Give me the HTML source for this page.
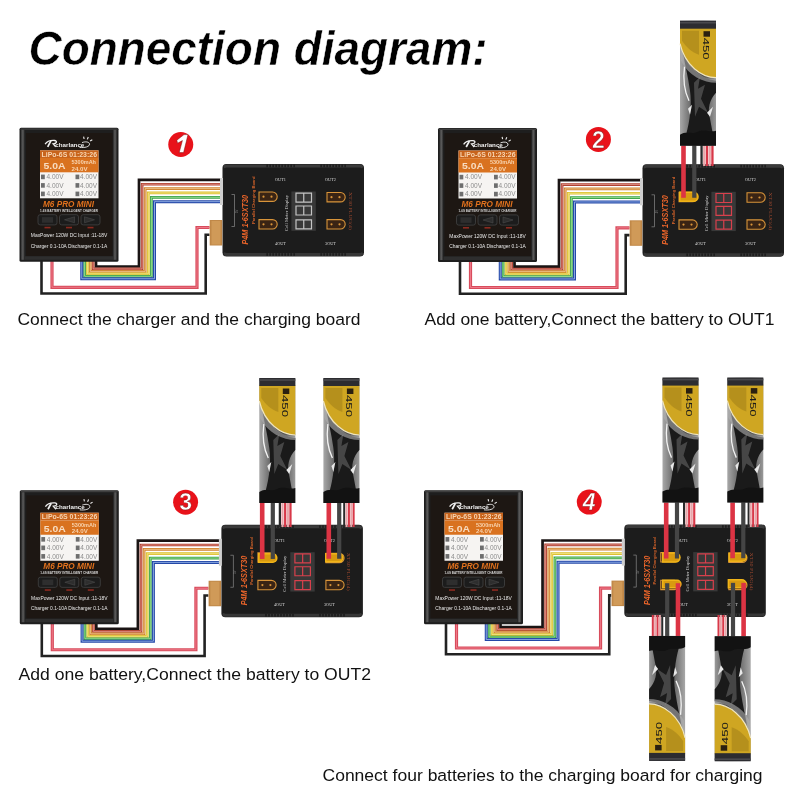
<!DOCTYPE html>
<html><head><meta charset="utf-8"><style>
html,body{margin:0;padding:0;background:#fff;width:800px;height:800px;overflow:hidden}
svg{display:block;will-change:transform}
</style></head><body>
<svg width="800" height="800" viewBox="0 0 800 800">
<defs><linearGradient id="bgrad" x1="0" x2="1" y1="0" y2="0"><stop offset="0" stop-color="#a8a8a8"/><stop offset="0.3" stop-color="#6a6a6a"/><stop offset="0.65" stop-color="#4a4a4a"/><stop offset="1" stop-color="#9a9a9a"/></linearGradient><linearGradient id="lgrad" x1="0" x2="1" y1="0" y2="0"><stop offset="0" stop-color="#a0a0a0"/><stop offset="1" stop-color="#5a5a5a"/></linearGradient><linearGradient id="rgrad" x1="0" x2="1" y1="0" y2="0"><stop offset="0" stop-color="#3a3a3a"/><stop offset="1" stop-color="#8a8a8a"/></linearGradient><linearGradient id="cstrip" x1="0" x2="1" y1="0" y2="0"><stop offset="0" stop-color="#3a3a3a"/><stop offset="0.5" stop-color="#5a5a5a"/><stop offset="1" stop-color="#2a2a2a"/></linearGradient></defs>
<rect width="800" height="800" fill="#fff"/>
<text x="28.5" y="65" font-family='"Liberation Sans", sans-serif' font-weight="bold" font-style="italic" font-size="48.5" fill="#000" stroke="#fff" stroke-width="0.5" textLength="459" lengthAdjust="spacingAndGlyphs">Connection diagram:</text><path d="M96.00 260.8 V266.50 H139.00 V179.90 H222.00" fill="none" stroke="#1a1414" stroke-width="2.7"/><path d="M93.15 260.8 V268.95 H142.10 V184.25 H222.00" fill="none" stroke="#b04030" stroke-width="2.7"/><path d="M93.15 260.8 V268.95 H142.10 V184.25 H222.00" fill="none" stroke="#eaa098" stroke-width="0.75"/><path d="M90.30 260.8 V271.40 H145.20 V188.60 H222.00" fill="none" stroke="#d0822e" stroke-width="2.7"/><path d="M90.30 260.8 V271.40 H145.20 V188.60 H222.00" fill="none" stroke="#f4d0a0" stroke-width="0.75"/><path d="M87.45 260.8 V273.85 H148.30 V192.95 H222.00" fill="none" stroke="#dcc030" stroke-width="2.7"/><path d="M87.45 260.8 V273.85 H148.30 V192.95 H222.00" fill="none" stroke="#f6ec98" stroke-width="0.75"/><path d="M84.60 260.8 V276.30 H151.40 V197.30 H222.00" fill="none" stroke="#3aa24a" stroke-width="2.7"/><path d="M84.60 260.8 V276.30 H151.40 V197.30 H222.00" fill="none" stroke="#b0eca0" stroke-width="0.75"/><path d="M81.75 260.8 V278.75 H154.50 V201.65 H222.00" fill="none" stroke="#2448a8" stroke-width="3.0"/><path d="M81.75 260.8 V278.75 H154.50 V201.65 H222.00" fill="none" stroke="#a8c4f0" stroke-width="0.75"/><path d="M41.5 260.8 V293.5 H205.7 V234.8 H209.5" fill="none" stroke="#222" stroke-width="2.6"/><path d="M52.0 260.8 V287.3 H197.0 V227.5 H209.5" fill="none" stroke="#d84c5c" stroke-width="3.2"/><path d="M52.0 260.8 V287.3 H197.0 V227.5 H209.5" fill="none" stroke="#ee7888" stroke-width="1.0"/><g transform="translate(19.5,127.8)"><rect x="0" y="0" width="99" height="134" rx="1.5" fill="#1e1e1e"/><rect x="1" y="0.6" width="97" height="1.4" fill="#3e3e3e"/><rect x="1.6" y="2" width="3.6" height="130" fill="url(#cstrip)"/><rect x="93.8" y="2" width="3.6" height="130" fill="url(#cstrip)"/><rect x="6.5" y="5.2" width="86.5" height="123" fill="#1d1713"/><rect x="5.5" y="128.5" width="88" height="3.5" fill="#2e2e2e"/><path d="M25.6 16.4 C27.5 13.6 31 12.4 35 12.7 C38 13 37.5 15.8 33.6 16 L36.2 19" fill="none" stroke="#f0f0f0" stroke-width="1.3"/><path d="M31.4 13 L28.2 19" fill="none" stroke="#f0f0f0" stroke-width="1.7"/><text x="35.8" y="19" font-family='"Liberation Sans", sans-serif' font-weight="bold" font-size="6" fill="#eeeeee" textLength="29" lengthAdjust="spacingAndGlyphs">charlance</text><path d="M60 19.6 C65 20.2 70.5 19 70 16 C69.5 14 66 13.5 62.5 14.8" fill="none" stroke="#eeeeee" stroke-width="0.9"/><path d="M64.6 11.2 l-0.5 -2.4 M67.8 11.6 l1 -2.4 M70.6 13.2 l2.2 -1.3" stroke="#eeeeee" stroke-width="1.1"/><rect x="20.5" y="22.5" width="58.5" height="48" fill="#f6f4f2"/><rect x="20.5" y="22.5" width="58.5" height="7.7" fill="#c8641c"/><rect x="20.5" y="30.2" width="58.5" height="14.3" fill="#d9721f"/><text x="22" y="29.2" font-family='"Liberation Sans", sans-serif' font-weight="bold" font-size="6.8" fill="#f8d4b0" textLength="55.5" lengthAdjust="spacingAndGlyphs">LiPo-6S 01:23:26</text><text x="24" y="41.3" font-family='"Liberation Sans", sans-serif' font-weight="bold" font-size="9.5" fill="#f8dcc0" textLength="22" lengthAdjust="spacingAndGlyphs">5.0A</text><text x="52" y="36.3" font-family='"Liberation Sans", sans-serif' font-weight="bold" font-size="5.4" fill="#f8d4b0" textLength="24.5" lengthAdjust="spacingAndGlyphs">5300mAh</text><text x="52" y="43.2" font-family='"Liberation Sans", sans-serif' font-weight="bold" font-size="6.2" fill="#f8d4b0" textLength="16" lengthAdjust="spacingAndGlyphs">24.0V</text><rect x="21.5" y="46.8" width="3.8" height="4.6" fill="#6e6e6e"/><text x="27" y="51.4" font-family='"Liberation Sans", sans-serif' font-size="7" fill="#8c8c8c" textLength="17" lengthAdjust="spacingAndGlyphs">4.00V</text><rect x="56" y="46.8" width="3.8" height="4.6" fill="#6e6e6e"/><text x="60.5" y="51.4" font-family='"Liberation Sans", sans-serif' font-size="7" fill="#8c8c8c" textLength="17" lengthAdjust="spacingAndGlyphs">4.00V</text><rect x="21.5" y="55.3" width="3.8" height="4.6" fill="#6e6e6e"/><text x="27" y="59.9" font-family='"Liberation Sans", sans-serif' font-size="7" fill="#8c8c8c" textLength="17" lengthAdjust="spacingAndGlyphs">4.00V</text><rect x="56" y="55.3" width="3.8" height="4.6" fill="#6e6e6e"/><text x="60.5" y="59.9" font-family='"Liberation Sans", sans-serif' font-size="7" fill="#8c8c8c" textLength="17" lengthAdjust="spacingAndGlyphs">4.00V</text><rect x="21.5" y="63.800000000000004" width="3.8" height="4.6" fill="#6e6e6e"/><text x="27" y="68.4" font-family='"Liberation Sans", sans-serif' font-size="7" fill="#8c8c8c" textLength="17" lengthAdjust="spacingAndGlyphs">4.00V</text><rect x="56" y="63.800000000000004" width="3.8" height="4.6" fill="#6e6e6e"/><text x="60.5" y="68.4" font-family='"Liberation Sans", sans-serif' font-size="7" fill="#8c8c8c" textLength="17" lengthAdjust="spacingAndGlyphs">4.00V</text><text x="23.5" y="79.2" font-family='"Liberation Sans", sans-serif' font-style="italic" font-weight="bold" font-size="8.8" fill="#e0711d" textLength="51" lengthAdjust="spacingAndGlyphs">M6 PRO MINI</text><text x="20.5" y="84" font-family='"Liberation Sans", sans-serif' font-weight="bold" font-size="2.6" fill="#d8d8d8" textLength="58" lengthAdjust="spacingAndGlyphs">1-6S BATTERY INTELLIGENT CHARGER</text><rect x="18.5" y="86.9" width="19" height="10.2" rx="2.2" fill="#1c1c1c" stroke="#3e3e3e" stroke-width="0.9"/><rect x="40" y="86.9" width="19" height="10.2" rx="2.2" fill="#1c1c1c" stroke="#3e3e3e" stroke-width="0.9"/><rect x="61.5" y="86.9" width="19" height="10.2" rx="2.2" fill="#1c1c1c" stroke="#3e3e3e" stroke-width="0.9"/><path d="M22.5 89.3h11v5.6h-11z" fill="#2e2e2e"/><path d="M45 92 l10 -3 v6z" fill="#2e2e2e" stroke="#505050" stroke-width="0.5"/><path d="M75 92 l-10 -3 v6z" fill="#2e2e2e" stroke="#505050" stroke-width="0.5"/><rect x="25" y="99" width="6" height="1.6" fill="#8a2a20"/><rect x="46.5" y="99" width="6" height="1.6" fill="#8a2a20"/><rect x="68" y="99" width="6" height="1.6" fill="#8a2a20"/><text x="11.3" y="109.6" font-family='"Liberation Sans", sans-serif' font-size="5.4" fill="#e8e8e8" textLength="76.5" lengthAdjust="spacingAndGlyphs">MaxPower 120W  DC Input :11-18V</text><text x="11.3" y="119.8" font-family='"Liberation Sans", sans-serif' font-size="5.4" fill="#e8e8e8" textLength="76.5" lengthAdjust="spacingAndGlyphs">Charger 0.1-10A  Discharger 0.1-1A</text></g><g transform="translate(222.5,164)"><rect x="0" y="0" width="141.5" height="92.5" rx="4" fill="#1e1e1e"/><rect x="1" y="0.5" width="139.5" height="4" rx="2" fill="#3a3a3a"/><rect x="1" y="88.0" width="139.5" height="4" rx="2" fill="#363636"/><rect x="2" y="3.5" width="137.5" height="85.5" rx="2" fill="#1c1c1c"/><rect x="-2.5" y="14" width="3" height="27" fill="#cfcfcf"/><path d="M9 30.5 h3 v32 h-3" fill="none" stroke="#8a8a8a" stroke-width="0.7"/><text transform="translate(15,49) rotate(-90)" font-family='"Liberation Sans", sans-serif' font-size="2.6" fill="#8a8a8a">5V</text><text transform="translate(25.8,80.5) rotate(-90)" font-family='"Liberation Sans", sans-serif' font-weight="bold" font-style="italic" font-size="8.2" fill="#e8642a" textLength="49.5" lengthAdjust="spacingAndGlyphs">P4M 1-6SXT30</text><text transform="translate(32,60) rotate(-90)" font-family='"Liberation Sans", sans-serif' font-weight="bold" font-size="4" fill="#d8642a" textLength="47.5" lengthAdjust="spacingAndGlyphs">Parallel Charging Board</text><rect x="44" y="0.6" width="1.2" height="2.6" fill="#151515"/><rect x="44" y="89.2" width="1.2" height="2.6" fill="#151515"/><rect x="47" y="0.6" width="1.2" height="2.6" fill="#151515"/><rect x="47" y="89.2" width="1.2" height="2.6" fill="#151515"/><rect x="50" y="0.6" width="1.2" height="2.6" fill="#151515"/><rect x="50" y="89.2" width="1.2" height="2.6" fill="#151515"/><rect x="53" y="0.6" width="1.2" height="2.6" fill="#151515"/><rect x="53" y="89.2" width="1.2" height="2.6" fill="#151515"/><rect x="56" y="0.6" width="1.2" height="2.6" fill="#151515"/><rect x="56" y="89.2" width="1.2" height="2.6" fill="#151515"/><rect x="59" y="0.6" width="1.2" height="2.6" fill="#151515"/><rect x="59" y="89.2" width="1.2" height="2.6" fill="#151515"/><rect x="62" y="0.6" width="1.2" height="2.6" fill="#151515"/><rect x="62" y="89.2" width="1.2" height="2.6" fill="#151515"/><rect x="65" y="0.6" width="1.2" height="2.6" fill="#151515"/><rect x="65" y="89.2" width="1.2" height="2.6" fill="#151515"/><rect x="68" y="0.6" width="1.2" height="2.6" fill="#151515"/><rect x="68" y="89.2" width="1.2" height="2.6" fill="#151515"/><rect x="71" y="0.6" width="1.2" height="2.6" fill="#151515"/><rect x="71" y="89.2" width="1.2" height="2.6" fill="#151515"/><rect x="98" y="0.6" width="1.2" height="2.6" fill="#151515"/><rect x="98" y="89.2" width="1.2" height="2.6" fill="#151515"/><rect x="101" y="0.6" width="1.2" height="2.6" fill="#151515"/><rect x="101" y="89.2" width="1.2" height="2.6" fill="#151515"/><rect x="104" y="0.6" width="1.2" height="2.6" fill="#151515"/><rect x="104" y="89.2" width="1.2" height="2.6" fill="#151515"/><rect x="107" y="0.6" width="1.2" height="2.6" fill="#151515"/><rect x="107" y="89.2" width="1.2" height="2.6" fill="#151515"/><rect x="110" y="0.6" width="1.2" height="2.6" fill="#151515"/><rect x="110" y="89.2" width="1.2" height="2.6" fill="#151515"/><rect x="113" y="0.6" width="1.2" height="2.6" fill="#151515"/><rect x="113" y="89.2" width="1.2" height="2.6" fill="#151515"/><rect x="116" y="0.6" width="1.2" height="2.6" fill="#151515"/><rect x="116" y="89.2" width="1.2" height="2.6" fill="#151515"/><rect x="119" y="0.6" width="1.2" height="2.6" fill="#151515"/><rect x="119" y="89.2" width="1.2" height="2.6" fill="#151515"/><rect x="122" y="0.6" width="1.2" height="2.6" fill="#151515"/><rect x="122" y="89.2" width="1.2" height="2.6" fill="#151515"/><text x="52.5" y="17" font-family="Liberation Serif" font-size="4.5" fill="#d8d8d8" textLength="11" lengthAdjust="spacingAndGlyphs">OUT1</text><text x="102.5" y="17" font-family="Liberation Serif" font-size="4.5" fill="#d8d8d8" textLength="11" lengthAdjust="spacingAndGlyphs">OUT2</text><text x="52.5" y="81" font-family="Liberation Serif" font-size="4.5" fill="#d8d8d8" textLength="11" lengthAdjust="spacingAndGlyphs">4OUT</text><text x="102.5" y="81" font-family="Liberation Serif" font-size="4.5" fill="#d8d8d8" textLength="11" lengthAdjust="spacingAndGlyphs">3OUT</text><text transform="translate(65,67) rotate(-90)" font-family="Liberation Serif" font-size="4.6" fill="#d0d0d0" textLength="36" lengthAdjust="spacingAndGlyphs">Cell Meter Display</text><text transform="translate(126,28) rotate(90)" font-family="Liberation Serif" font-size="4.6" fill="#a04a30" textLength="38" lengthAdjust="spacingAndGlyphs">XT30 PLUG(4)</text><rect x="68.9" y="27.5" width="24.4" height="39.3" fill="#383838"/><path d="M73.5 29.2 h15.5 v9 h-15.5 z M81.25 29.2 v9" fill="none" stroke="#c4c4c4" stroke-width="1.2"/><path d="M73.5 42 h15.5 v9 h-15.5 z M81.25 42 v9" fill="none" stroke="#c4c4c4" stroke-width="1.2"/><path d="M73.5 55.8 h15.5 v9 h-15.5 z M81.25 55.8 v9" fill="none" stroke="#c4c4c4" stroke-width="1.2"/><path d="M36.5 28 h13.5 a4.7 4.7 0 0 1 0 9.4 h-13.5 z" fill="#3a2414" stroke="#d8943a" stroke-width="1.1"/><circle cx="41.0" cy="32.7" r="1.1" fill="#d8943a"/><circle cx="49.0" cy="32.7" r="1.1" fill="#d8943a"/><path d="M104.5 28.5 h13.5 a4.7 4.7 0 0 1 0 9.4 h-13.5 z" fill="#3a2414" stroke="#d8943a" stroke-width="1.1"/><circle cx="109.0" cy="33.2" r="1.1" fill="#d8943a"/><circle cx="117.0" cy="33.2" r="1.1" fill="#d8943a"/><path d="M36.5 55.6 h13.5 a4.7 4.7 0 0 1 0 9.4 h-13.5 z" fill="#3a2414" stroke="#d8943a" stroke-width="1.1"/><circle cx="41.0" cy="60.300000000000004" r="1.1" fill="#d8943a"/><circle cx="49.0" cy="60.300000000000004" r="1.1" fill="#d8943a"/><path d="M104.5 55.6 h13.5 a4.7 4.7 0 0 1 0 9.4 h-13.5 z" fill="#3a2414" stroke="#d8943a" stroke-width="1.1"/><circle cx="109.0" cy="60.300000000000004" r="1.1" fill="#d8943a"/><circle cx="117.0" cy="60.300000000000004" r="1.1" fill="#d8943a"/><rect x="-12.8" y="56" width="12.5" height="25.5" fill="#c08848"/><rect x="-11" y="57" width="9" height="23.5" fill="#d09a58"/></g><circle cx="180.75" cy="144.5" r="12.5" fill="#e8121a"/><path transform="translate(0.0,0.0)" d="M184 134.6 L188 134.6 L183.6 152.6 L179.2 152.6 L182.4 140.6 L177.6 143.2 L176.8 140.2 Z" fill="#fff" stroke="#7a1010" stroke-width="0.5"/><path d="M514.50 261 V266.70 H559.00 V180.20 H642.00" fill="none" stroke="#1a1414" stroke-width="2.7"/><path d="M511.65 261 V269.15 H562.10 V184.55 H642.00" fill="none" stroke="#b04030" stroke-width="2.7"/><path d="M511.65 261 V269.15 H562.10 V184.55 H642.00" fill="none" stroke="#eaa098" stroke-width="0.75"/><path d="M508.80 261 V271.60 H565.20 V188.90 H642.00" fill="none" stroke="#d0822e" stroke-width="2.7"/><path d="M508.80 261 V271.60 H565.20 V188.90 H642.00" fill="none" stroke="#f4d0a0" stroke-width="0.75"/><path d="M505.95 261 V274.05 H568.30 V193.25 H642.00" fill="none" stroke="#dcc030" stroke-width="2.7"/><path d="M505.95 261 V274.05 H568.30 V193.25 H642.00" fill="none" stroke="#f6ec98" stroke-width="0.75"/><path d="M503.10 261 V276.50 H571.40 V197.60 H642.00" fill="none" stroke="#3aa24a" stroke-width="2.7"/><path d="M503.10 261 V276.50 H571.40 V197.60 H642.00" fill="none" stroke="#b0eca0" stroke-width="0.75"/><path d="M500.25 261 V278.95 H574.50 V201.95 H642.00" fill="none" stroke="#2448a8" stroke-width="3.0"/><path d="M500.25 261 V278.95 H574.50 V201.95 H642.00" fill="none" stroke="#a8c4f0" stroke-width="0.75"/><path d="M460 261 V293.7 H625.7 V235.10000000000002 H629.5" fill="none" stroke="#222" stroke-width="2.6"/><path d="M470.5 261 V287.5 H617.0 V227.8 H629.5" fill="none" stroke="#d84c5c" stroke-width="3.2"/><path d="M470.5 261 V287.5 H617.0 V227.8 H629.5" fill="none" stroke="#ee7888" stroke-width="1.0"/><g transform="translate(438,128)"><rect x="0" y="0" width="99" height="134" rx="1.5" fill="#1e1e1e"/><rect x="1" y="0.6" width="97" height="1.4" fill="#3e3e3e"/><rect x="1.6" y="2" width="3.6" height="130" fill="url(#cstrip)"/><rect x="93.8" y="2" width="3.6" height="130" fill="url(#cstrip)"/><rect x="6.5" y="5.2" width="86.5" height="123" fill="#1d1713"/><rect x="5.5" y="128.5" width="88" height="3.5" fill="#2e2e2e"/><path d="M25.6 16.4 C27.5 13.6 31 12.4 35 12.7 C38 13 37.5 15.8 33.6 16 L36.2 19" fill="none" stroke="#f0f0f0" stroke-width="1.3"/><path d="M31.4 13 L28.2 19" fill="none" stroke="#f0f0f0" stroke-width="1.7"/><text x="35.8" y="19" font-family='"Liberation Sans", sans-serif' font-weight="bold" font-size="6" fill="#eeeeee" textLength="29" lengthAdjust="spacingAndGlyphs">charlance</text><path d="M60 19.6 C65 20.2 70.5 19 70 16 C69.5 14 66 13.5 62.5 14.8" fill="none" stroke="#eeeeee" stroke-width="0.9"/><path d="M64.6 11.2 l-0.5 -2.4 M67.8 11.6 l1 -2.4 M70.6 13.2 l2.2 -1.3" stroke="#eeeeee" stroke-width="1.1"/><rect x="20.5" y="22.5" width="58.5" height="48" fill="#f6f4f2"/><rect x="20.5" y="22.5" width="58.5" height="7.7" fill="#c8641c"/><rect x="20.5" y="30.2" width="58.5" height="14.3" fill="#d9721f"/><text x="22" y="29.2" font-family='"Liberation Sans", sans-serif' font-weight="bold" font-size="6.8" fill="#f8d4b0" textLength="55.5" lengthAdjust="spacingAndGlyphs">LiPo-6S 01:23:26</text><text x="24" y="41.3" font-family='"Liberation Sans", sans-serif' font-weight="bold" font-size="9.5" fill="#f8dcc0" textLength="22" lengthAdjust="spacingAndGlyphs">5.0A</text><text x="52" y="36.3" font-family='"Liberation Sans", sans-serif' font-weight="bold" font-size="5.4" fill="#f8d4b0" textLength="24.5" lengthAdjust="spacingAndGlyphs">5300mAh</text><text x="52" y="43.2" font-family='"Liberation Sans", sans-serif' font-weight="bold" font-size="6.2" fill="#f8d4b0" textLength="16" lengthAdjust="spacingAndGlyphs">24.0V</text><rect x="21.5" y="46.8" width="3.8" height="4.6" fill="#6e6e6e"/><text x="27" y="51.4" font-family='"Liberation Sans", sans-serif' font-size="7" fill="#8c8c8c" textLength="17" lengthAdjust="spacingAndGlyphs">4.00V</text><rect x="56" y="46.8" width="3.8" height="4.6" fill="#6e6e6e"/><text x="60.5" y="51.4" font-family='"Liberation Sans", sans-serif' font-size="7" fill="#8c8c8c" textLength="17" lengthAdjust="spacingAndGlyphs">4.00V</text><rect x="21.5" y="55.3" width="3.8" height="4.6" fill="#6e6e6e"/><text x="27" y="59.9" font-family='"Liberation Sans", sans-serif' font-size="7" fill="#8c8c8c" textLength="17" lengthAdjust="spacingAndGlyphs">4.00V</text><rect x="56" y="55.3" width="3.8" height="4.6" fill="#6e6e6e"/><text x="60.5" y="59.9" font-family='"Liberation Sans", sans-serif' font-size="7" fill="#8c8c8c" textLength="17" lengthAdjust="spacingAndGlyphs">4.00V</text><rect x="21.5" y="63.800000000000004" width="3.8" height="4.6" fill="#6e6e6e"/><text x="27" y="68.4" font-family='"Liberation Sans", sans-serif' font-size="7" fill="#8c8c8c" textLength="17" lengthAdjust="spacingAndGlyphs">4.00V</text><rect x="56" y="63.800000000000004" width="3.8" height="4.6" fill="#6e6e6e"/><text x="60.5" y="68.4" font-family='"Liberation Sans", sans-serif' font-size="7" fill="#8c8c8c" textLength="17" lengthAdjust="spacingAndGlyphs">4.00V</text><text x="23.5" y="79.2" font-family='"Liberation Sans", sans-serif' font-style="italic" font-weight="bold" font-size="8.8" fill="#e0711d" textLength="51" lengthAdjust="spacingAndGlyphs">M6 PRO MINI</text><text x="20.5" y="84" font-family='"Liberation Sans", sans-serif' font-weight="bold" font-size="2.6" fill="#d8d8d8" textLength="58" lengthAdjust="spacingAndGlyphs">1-6S BATTERY INTELLIGENT CHARGER</text><rect x="18.5" y="86.9" width="19" height="10.2" rx="2.2" fill="#1c1c1c" stroke="#3e3e3e" stroke-width="0.9"/><rect x="40" y="86.9" width="19" height="10.2" rx="2.2" fill="#1c1c1c" stroke="#3e3e3e" stroke-width="0.9"/><rect x="61.5" y="86.9" width="19" height="10.2" rx="2.2" fill="#1c1c1c" stroke="#3e3e3e" stroke-width="0.9"/><path d="M22.5 89.3h11v5.6h-11z" fill="#2e2e2e"/><path d="M45 92 l10 -3 v6z" fill="#2e2e2e" stroke="#505050" stroke-width="0.5"/><path d="M75 92 l-10 -3 v6z" fill="#2e2e2e" stroke="#505050" stroke-width="0.5"/><rect x="25" y="99" width="6" height="1.6" fill="#8a2a20"/><rect x="46.5" y="99" width="6" height="1.6" fill="#8a2a20"/><rect x="68" y="99" width="6" height="1.6" fill="#8a2a20"/><text x="11.3" y="109.6" font-family='"Liberation Sans", sans-serif' font-size="5.4" fill="#e8e8e8" textLength="76.5" lengthAdjust="spacingAndGlyphs">MaxPower 120W  DC Input :11-18V</text><text x="11.3" y="119.8" font-family='"Liberation Sans", sans-serif' font-size="5.4" fill="#e8e8e8" textLength="76.5" lengthAdjust="spacingAndGlyphs">Charger 0.1-10A  Discharger 0.1-1A</text></g><g transform="translate(642.5,164.3)"><rect x="0" y="0" width="141.5" height="92.5" rx="4" fill="#1e1e1e"/><rect x="1" y="0.5" width="139.5" height="4" rx="2" fill="#3a3a3a"/><rect x="1" y="88.0" width="139.5" height="4" rx="2" fill="#363636"/><rect x="2" y="3.5" width="137.5" height="85.5" rx="2" fill="#1c1c1c"/><rect x="-2.5" y="14" width="3" height="27" fill="#cfcfcf"/><path d="M9 30.5 h3 v32 h-3" fill="none" stroke="#8a8a8a" stroke-width="0.7"/><text transform="translate(15,49) rotate(-90)" font-family='"Liberation Sans", sans-serif' font-size="2.6" fill="#8a8a8a">5V</text><text transform="translate(25.8,80.5) rotate(-90)" font-family='"Liberation Sans", sans-serif' font-weight="bold" font-style="italic" font-size="8.2" fill="#e8642a" textLength="49.5" lengthAdjust="spacingAndGlyphs">P4M 1-6SXT30</text><text transform="translate(32,60) rotate(-90)" font-family='"Liberation Sans", sans-serif' font-weight="bold" font-size="4" fill="#d8642a" textLength="47.5" lengthAdjust="spacingAndGlyphs">Parallel Charging Board</text><rect x="44" y="0.6" width="1.2" height="2.6" fill="#151515"/><rect x="44" y="89.2" width="1.2" height="2.6" fill="#151515"/><rect x="47" y="0.6" width="1.2" height="2.6" fill="#151515"/><rect x="47" y="89.2" width="1.2" height="2.6" fill="#151515"/><rect x="50" y="0.6" width="1.2" height="2.6" fill="#151515"/><rect x="50" y="89.2" width="1.2" height="2.6" fill="#151515"/><rect x="53" y="0.6" width="1.2" height="2.6" fill="#151515"/><rect x="53" y="89.2" width="1.2" height="2.6" fill="#151515"/><rect x="56" y="0.6" width="1.2" height="2.6" fill="#151515"/><rect x="56" y="89.2" width="1.2" height="2.6" fill="#151515"/><rect x="59" y="0.6" width="1.2" height="2.6" fill="#151515"/><rect x="59" y="89.2" width="1.2" height="2.6" fill="#151515"/><rect x="62" y="0.6" width="1.2" height="2.6" fill="#151515"/><rect x="62" y="89.2" width="1.2" height="2.6" fill="#151515"/><rect x="65" y="0.6" width="1.2" height="2.6" fill="#151515"/><rect x="65" y="89.2" width="1.2" height="2.6" fill="#151515"/><rect x="68" y="0.6" width="1.2" height="2.6" fill="#151515"/><rect x="68" y="89.2" width="1.2" height="2.6" fill="#151515"/><rect x="71" y="0.6" width="1.2" height="2.6" fill="#151515"/><rect x="71" y="89.2" width="1.2" height="2.6" fill="#151515"/><rect x="98" y="0.6" width="1.2" height="2.6" fill="#151515"/><rect x="98" y="89.2" width="1.2" height="2.6" fill="#151515"/><rect x="101" y="0.6" width="1.2" height="2.6" fill="#151515"/><rect x="101" y="89.2" width="1.2" height="2.6" fill="#151515"/><rect x="104" y="0.6" width="1.2" height="2.6" fill="#151515"/><rect x="104" y="89.2" width="1.2" height="2.6" fill="#151515"/><rect x="107" y="0.6" width="1.2" height="2.6" fill="#151515"/><rect x="107" y="89.2" width="1.2" height="2.6" fill="#151515"/><rect x="110" y="0.6" width="1.2" height="2.6" fill="#151515"/><rect x="110" y="89.2" width="1.2" height="2.6" fill="#151515"/><rect x="113" y="0.6" width="1.2" height="2.6" fill="#151515"/><rect x="113" y="89.2" width="1.2" height="2.6" fill="#151515"/><rect x="116" y="0.6" width="1.2" height="2.6" fill="#151515"/><rect x="116" y="89.2" width="1.2" height="2.6" fill="#151515"/><rect x="119" y="0.6" width="1.2" height="2.6" fill="#151515"/><rect x="119" y="89.2" width="1.2" height="2.6" fill="#151515"/><rect x="122" y="0.6" width="1.2" height="2.6" fill="#151515"/><rect x="122" y="89.2" width="1.2" height="2.6" fill="#151515"/><text x="52.5" y="17" font-family="Liberation Serif" font-size="4.5" fill="#d8d8d8" textLength="11" lengthAdjust="spacingAndGlyphs">OUT1</text><text x="102.5" y="17" font-family="Liberation Serif" font-size="4.5" fill="#d8d8d8" textLength="11" lengthAdjust="spacingAndGlyphs">OUT2</text><text x="52.5" y="81" font-family="Liberation Serif" font-size="4.5" fill="#d8d8d8" textLength="11" lengthAdjust="spacingAndGlyphs">4OUT</text><text x="102.5" y="81" font-family="Liberation Serif" font-size="4.5" fill="#d8d8d8" textLength="11" lengthAdjust="spacingAndGlyphs">3OUT</text><text transform="translate(65,67) rotate(-90)" font-family="Liberation Serif" font-size="4.6" fill="#d0d0d0" textLength="36" lengthAdjust="spacingAndGlyphs">Cell Meter Display</text><text transform="translate(126,28) rotate(90)" font-family="Liberation Serif" font-size="4.6" fill="#a04a30" textLength="38" lengthAdjust="spacingAndGlyphs">XT30 PLUG(4)</text><rect x="68.9" y="27.5" width="24.4" height="39.3" fill="#383838"/><path d="M73.5 29.2 h15.5 v9 h-15.5 z M81.25 29.2 v9" fill="none" stroke="#d8404c" stroke-width="1.2"/><path d="M73.5 42 h15.5 v9 h-15.5 z M81.25 42 v9" fill="none" stroke="#d8404c" stroke-width="1.2"/><path d="M73.5 55.8 h15.5 v9 h-15.5 z M81.25 55.8 v9" fill="none" stroke="#d8404c" stroke-width="1.2"/><path d="M36.5 28 h13.5 a4.7 4.7 0 0 1 0 9.4 h-13.5 z" fill="#3a2414" stroke="#d8943a" stroke-width="1.1"/><circle cx="41.0" cy="32.7" r="1.1" fill="#d8943a"/><circle cx="49.0" cy="32.7" r="1.1" fill="#d8943a"/><path d="M104.5 28.5 h13.5 a4.7 4.7 0 0 1 0 9.4 h-13.5 z" fill="#3a2414" stroke="#d8943a" stroke-width="1.1"/><circle cx="109.0" cy="33.2" r="1.1" fill="#d8943a"/><circle cx="117.0" cy="33.2" r="1.1" fill="#d8943a"/><path d="M36.5 55.6 h13.5 a4.7 4.7 0 0 1 0 9.4 h-13.5 z" fill="#3a2414" stroke="#d8943a" stroke-width="1.1"/><circle cx="41.0" cy="60.300000000000004" r="1.1" fill="#d8943a"/><circle cx="49.0" cy="60.300000000000004" r="1.1" fill="#d8943a"/><path d="M104.5 55.6 h13.5 a4.7 4.7 0 0 1 0 9.4 h-13.5 z" fill="#3a2414" stroke="#d8943a" stroke-width="1.1"/><circle cx="109.0" cy="60.300000000000004" r="1.1" fill="#d8943a"/><circle cx="117.0" cy="60.300000000000004" r="1.1" fill="#d8943a"/><rect x="-12.8" y="56" width="12.5" height="25.5" fill="#c08848"/><rect x="-11" y="57" width="9" height="23.5" fill="#d09a58"/></g><circle cx="598.4" cy="139.4" r="12.5" fill="#e8121a"/><text x="598.4" y="147.6" text-anchor="middle" font-family='"Liberation Sans", sans-serif' font-weight="bold" font-size="23" fill="#fff" stroke="#7a1010" stroke-width="0.4">2</text><path d="M96.30 623.25 V628.95 H137.90 V540.65 H220.90" fill="none" stroke="#1a1414" stroke-width="2.7"/><path d="M93.45 623.25 V631.40 H141.00 V545.00 H220.90" fill="none" stroke="#b04030" stroke-width="2.7"/><path d="M93.45 623.25 V631.40 H141.00 V545.00 H220.90" fill="none" stroke="#eaa098" stroke-width="0.75"/><path d="M90.60 623.25 V633.85 H144.10 V549.35 H220.90" fill="none" stroke="#d0822e" stroke-width="2.7"/><path d="M90.60 623.25 V633.85 H144.10 V549.35 H220.90" fill="none" stroke="#f4d0a0" stroke-width="0.75"/><path d="M87.75 623.25 V636.30 H147.20 V553.70 H220.90" fill="none" stroke="#dcc030" stroke-width="2.7"/><path d="M87.75 623.25 V636.30 H147.20 V553.70 H220.90" fill="none" stroke="#f6ec98" stroke-width="0.75"/><path d="M84.90 623.25 V638.75 H150.30 V558.05 H220.90" fill="none" stroke="#3aa24a" stroke-width="2.7"/><path d="M84.90 623.25 V638.75 H150.30 V558.05 H220.90" fill="none" stroke="#b0eca0" stroke-width="0.75"/><path d="M82.05 623.25 V641.20 H153.40 V562.40 H220.90" fill="none" stroke="#2448a8" stroke-width="3.0"/><path d="M82.05 623.25 V641.20 H153.40 V562.40 H220.90" fill="none" stroke="#a8c4f0" stroke-width="0.75"/><path d="M41.8 623.25 V655.95 H204.6 V595.55 H208.4" fill="none" stroke="#222" stroke-width="2.6"/><path d="M52.3 623.25 V649.75 H195.9 V588.25 H208.4" fill="none" stroke="#d84c5c" stroke-width="3.2"/><path d="M52.3 623.25 V649.75 H195.9 V588.25 H208.4" fill="none" stroke="#ee7888" stroke-width="1.0"/><g transform="translate(19.8,490.25)"><rect x="0" y="0" width="99" height="134" rx="1.5" fill="#1e1e1e"/><rect x="1" y="0.6" width="97" height="1.4" fill="#3e3e3e"/><rect x="1.6" y="2" width="3.6" height="130" fill="url(#cstrip)"/><rect x="93.8" y="2" width="3.6" height="130" fill="url(#cstrip)"/><rect x="6.5" y="5.2" width="86.5" height="123" fill="#1d1713"/><rect x="5.5" y="128.5" width="88" height="3.5" fill="#2e2e2e"/><path d="M25.6 16.4 C27.5 13.6 31 12.4 35 12.7 C38 13 37.5 15.8 33.6 16 L36.2 19" fill="none" stroke="#f0f0f0" stroke-width="1.3"/><path d="M31.4 13 L28.2 19" fill="none" stroke="#f0f0f0" stroke-width="1.7"/><text x="35.8" y="19" font-family='"Liberation Sans", sans-serif' font-weight="bold" font-size="6" fill="#eeeeee" textLength="29" lengthAdjust="spacingAndGlyphs">charlance</text><path d="M60 19.6 C65 20.2 70.5 19 70 16 C69.5 14 66 13.5 62.5 14.8" fill="none" stroke="#eeeeee" stroke-width="0.9"/><path d="M64.6 11.2 l-0.5 -2.4 M67.8 11.6 l1 -2.4 M70.6 13.2 l2.2 -1.3" stroke="#eeeeee" stroke-width="1.1"/><rect x="20.5" y="22.5" width="58.5" height="48" fill="#f6f4f2"/><rect x="20.5" y="22.5" width="58.5" height="7.7" fill="#c8641c"/><rect x="20.5" y="30.2" width="58.5" height="14.3" fill="#d9721f"/><text x="22" y="29.2" font-family='"Liberation Sans", sans-serif' font-weight="bold" font-size="6.8" fill="#f8d4b0" textLength="55.5" lengthAdjust="spacingAndGlyphs">LiPo-6S 01:23:26</text><text x="24" y="41.3" font-family='"Liberation Sans", sans-serif' font-weight="bold" font-size="9.5" fill="#f8dcc0" textLength="22" lengthAdjust="spacingAndGlyphs">5.0A</text><text x="52" y="36.3" font-family='"Liberation Sans", sans-serif' font-weight="bold" font-size="5.4" fill="#f8d4b0" textLength="24.5" lengthAdjust="spacingAndGlyphs">5300mAh</text><text x="52" y="43.2" font-family='"Liberation Sans", sans-serif' font-weight="bold" font-size="6.2" fill="#f8d4b0" textLength="16" lengthAdjust="spacingAndGlyphs">24.0V</text><rect x="21.5" y="46.8" width="3.8" height="4.6" fill="#6e6e6e"/><text x="27" y="51.4" font-family='"Liberation Sans", sans-serif' font-size="7" fill="#8c8c8c" textLength="17" lengthAdjust="spacingAndGlyphs">4.00V</text><rect x="56" y="46.8" width="3.8" height="4.6" fill="#6e6e6e"/><text x="60.5" y="51.4" font-family='"Liberation Sans", sans-serif' font-size="7" fill="#8c8c8c" textLength="17" lengthAdjust="spacingAndGlyphs">4.00V</text><rect x="21.5" y="55.3" width="3.8" height="4.6" fill="#6e6e6e"/><text x="27" y="59.9" font-family='"Liberation Sans", sans-serif' font-size="7" fill="#8c8c8c" textLength="17" lengthAdjust="spacingAndGlyphs">4.00V</text><rect x="56" y="55.3" width="3.8" height="4.6" fill="#6e6e6e"/><text x="60.5" y="59.9" font-family='"Liberation Sans", sans-serif' font-size="7" fill="#8c8c8c" textLength="17" lengthAdjust="spacingAndGlyphs">4.00V</text><rect x="21.5" y="63.800000000000004" width="3.8" height="4.6" fill="#6e6e6e"/><text x="27" y="68.4" font-family='"Liberation Sans", sans-serif' font-size="7" fill="#8c8c8c" textLength="17" lengthAdjust="spacingAndGlyphs">4.00V</text><rect x="56" y="63.800000000000004" width="3.8" height="4.6" fill="#6e6e6e"/><text x="60.5" y="68.4" font-family='"Liberation Sans", sans-serif' font-size="7" fill="#8c8c8c" textLength="17" lengthAdjust="spacingAndGlyphs">4.00V</text><text x="23.5" y="79.2" font-family='"Liberation Sans", sans-serif' font-style="italic" font-weight="bold" font-size="8.8" fill="#e0711d" textLength="51" lengthAdjust="spacingAndGlyphs">M6 PRO MINI</text><text x="20.5" y="84" font-family='"Liberation Sans", sans-serif' font-weight="bold" font-size="2.6" fill="#d8d8d8" textLength="58" lengthAdjust="spacingAndGlyphs">1-6S BATTERY INTELLIGENT CHARGER</text><rect x="18.5" y="86.9" width="19" height="10.2" rx="2.2" fill="#1c1c1c" stroke="#3e3e3e" stroke-width="0.9"/><rect x="40" y="86.9" width="19" height="10.2" rx="2.2" fill="#1c1c1c" stroke="#3e3e3e" stroke-width="0.9"/><rect x="61.5" y="86.9" width="19" height="10.2" rx="2.2" fill="#1c1c1c" stroke="#3e3e3e" stroke-width="0.9"/><path d="M22.5 89.3h11v5.6h-11z" fill="#2e2e2e"/><path d="M45 92 l10 -3 v6z" fill="#2e2e2e" stroke="#505050" stroke-width="0.5"/><path d="M75 92 l-10 -3 v6z" fill="#2e2e2e" stroke="#505050" stroke-width="0.5"/><rect x="25" y="99" width="6" height="1.6" fill="#8a2a20"/><rect x="46.5" y="99" width="6" height="1.6" fill="#8a2a20"/><rect x="68" y="99" width="6" height="1.6" fill="#8a2a20"/><text x="11.3" y="109.6" font-family='"Liberation Sans", sans-serif' font-size="5.4" fill="#e8e8e8" textLength="76.5" lengthAdjust="spacingAndGlyphs">MaxPower 120W  DC Input :11-18V</text><text x="11.3" y="119.8" font-family='"Liberation Sans", sans-serif' font-size="5.4" fill="#e8e8e8" textLength="76.5" lengthAdjust="spacingAndGlyphs">Charger 0.1-10A  Discharger 0.1-1A</text></g><g transform="translate(221.4,524.75)"><rect x="0" y="0" width="141.5" height="92.5" rx="4" fill="#1e1e1e"/><rect x="1" y="0.5" width="139.5" height="4" rx="2" fill="#3a3a3a"/><rect x="1" y="88.0" width="139.5" height="4" rx="2" fill="#363636"/><rect x="2" y="3.5" width="137.5" height="85.5" rx="2" fill="#1c1c1c"/><rect x="-2.5" y="14" width="3" height="27" fill="#cfcfcf"/><path d="M9 30.5 h3 v32 h-3" fill="none" stroke="#8a8a8a" stroke-width="0.7"/><text transform="translate(15,49) rotate(-90)" font-family='"Liberation Sans", sans-serif' font-size="2.6" fill="#8a8a8a">5V</text><text transform="translate(25.8,80.5) rotate(-90)" font-family='"Liberation Sans", sans-serif' font-weight="bold" font-style="italic" font-size="8.2" fill="#e8642a" textLength="49.5" lengthAdjust="spacingAndGlyphs">P4M 1-6SXT30</text><text transform="translate(32,60) rotate(-90)" font-family='"Liberation Sans", sans-serif' font-weight="bold" font-size="4" fill="#d8642a" textLength="47.5" lengthAdjust="spacingAndGlyphs">Parallel Charging Board</text><rect x="44" y="0.6" width="1.2" height="2.6" fill="#151515"/><rect x="44" y="89.2" width="1.2" height="2.6" fill="#151515"/><rect x="47" y="0.6" width="1.2" height="2.6" fill="#151515"/><rect x="47" y="89.2" width="1.2" height="2.6" fill="#151515"/><rect x="50" y="0.6" width="1.2" height="2.6" fill="#151515"/><rect x="50" y="89.2" width="1.2" height="2.6" fill="#151515"/><rect x="53" y="0.6" width="1.2" height="2.6" fill="#151515"/><rect x="53" y="89.2" width="1.2" height="2.6" fill="#151515"/><rect x="56" y="0.6" width="1.2" height="2.6" fill="#151515"/><rect x="56" y="89.2" width="1.2" height="2.6" fill="#151515"/><rect x="59" y="0.6" width="1.2" height="2.6" fill="#151515"/><rect x="59" y="89.2" width="1.2" height="2.6" fill="#151515"/><rect x="62" y="0.6" width="1.2" height="2.6" fill="#151515"/><rect x="62" y="89.2" width="1.2" height="2.6" fill="#151515"/><rect x="65" y="0.6" width="1.2" height="2.6" fill="#151515"/><rect x="65" y="89.2" width="1.2" height="2.6" fill="#151515"/><rect x="68" y="0.6" width="1.2" height="2.6" fill="#151515"/><rect x="68" y="89.2" width="1.2" height="2.6" fill="#151515"/><rect x="71" y="0.6" width="1.2" height="2.6" fill="#151515"/><rect x="71" y="89.2" width="1.2" height="2.6" fill="#151515"/><rect x="98" y="0.6" width="1.2" height="2.6" fill="#151515"/><rect x="98" y="89.2" width="1.2" height="2.6" fill="#151515"/><rect x="101" y="0.6" width="1.2" height="2.6" fill="#151515"/><rect x="101" y="89.2" width="1.2" height="2.6" fill="#151515"/><rect x="104" y="0.6" width="1.2" height="2.6" fill="#151515"/><rect x="104" y="89.2" width="1.2" height="2.6" fill="#151515"/><rect x="107" y="0.6" width="1.2" height="2.6" fill="#151515"/><rect x="107" y="89.2" width="1.2" height="2.6" fill="#151515"/><rect x="110" y="0.6" width="1.2" height="2.6" fill="#151515"/><rect x="110" y="89.2" width="1.2" height="2.6" fill="#151515"/><rect x="113" y="0.6" width="1.2" height="2.6" fill="#151515"/><rect x="113" y="89.2" width="1.2" height="2.6" fill="#151515"/><rect x="116" y="0.6" width="1.2" height="2.6" fill="#151515"/><rect x="116" y="89.2" width="1.2" height="2.6" fill="#151515"/><rect x="119" y="0.6" width="1.2" height="2.6" fill="#151515"/><rect x="119" y="89.2" width="1.2" height="2.6" fill="#151515"/><rect x="122" y="0.6" width="1.2" height="2.6" fill="#151515"/><rect x="122" y="89.2" width="1.2" height="2.6" fill="#151515"/><text x="52.5" y="17" font-family="Liberation Serif" font-size="4.5" fill="#d8d8d8" textLength="11" lengthAdjust="spacingAndGlyphs">OUT1</text><text x="102.5" y="17" font-family="Liberation Serif" font-size="4.5" fill="#d8d8d8" textLength="11" lengthAdjust="spacingAndGlyphs">OUT2</text><text x="52.5" y="81" font-family="Liberation Serif" font-size="4.5" fill="#d8d8d8" textLength="11" lengthAdjust="spacingAndGlyphs">4OUT</text><text x="102.5" y="81" font-family="Liberation Serif" font-size="4.5" fill="#d8d8d8" textLength="11" lengthAdjust="spacingAndGlyphs">3OUT</text><text transform="translate(65,67) rotate(-90)" font-family="Liberation Serif" font-size="4.6" fill="#d0d0d0" textLength="36" lengthAdjust="spacingAndGlyphs">Cell Meter Display</text><text transform="translate(126,28) rotate(90)" font-family="Liberation Serif" font-size="4.6" fill="#a04a30" textLength="38" lengthAdjust="spacingAndGlyphs">XT30 PLUG(4)</text><rect x="68.9" y="27.5" width="24.4" height="39.3" fill="#383838"/><path d="M73.5 29.2 h15.5 v9 h-15.5 z M81.25 29.2 v9" fill="none" stroke="#d8404c" stroke-width="1.2"/><path d="M73.5 42 h15.5 v9 h-15.5 z M81.25 42 v9" fill="none" stroke="#d8404c" stroke-width="1.2"/><path d="M73.5 55.8 h15.5 v9 h-15.5 z M81.25 55.8 v9" fill="none" stroke="#d8404c" stroke-width="1.2"/><path d="M36.5 28 h13.5 a4.7 4.7 0 0 1 0 9.4 h-13.5 z" fill="#3a2414" stroke="#d8943a" stroke-width="1.1"/><circle cx="41.0" cy="32.7" r="1.1" fill="#d8943a"/><circle cx="49.0" cy="32.7" r="1.1" fill="#d8943a"/><path d="M104.5 28.5 h13.5 a4.7 4.7 0 0 1 0 9.4 h-13.5 z" fill="#3a2414" stroke="#d8943a" stroke-width="1.1"/><circle cx="109.0" cy="33.2" r="1.1" fill="#d8943a"/><circle cx="117.0" cy="33.2" r="1.1" fill="#d8943a"/><path d="M36.5 55.6 h13.5 a4.7 4.7 0 0 1 0 9.4 h-13.5 z" fill="#3a2414" stroke="#d8943a" stroke-width="1.1"/><circle cx="41.0" cy="60.300000000000004" r="1.1" fill="#d8943a"/><circle cx="49.0" cy="60.300000000000004" r="1.1" fill="#d8943a"/><path d="M104.5 55.6 h13.5 a4.7 4.7 0 0 1 0 9.4 h-13.5 z" fill="#3a2414" stroke="#d8943a" stroke-width="1.1"/><circle cx="109.0" cy="60.300000000000004" r="1.1" fill="#d8943a"/><circle cx="117.0" cy="60.300000000000004" r="1.1" fill="#d8943a"/><rect x="-12.8" y="56" width="12.5" height="25.5" fill="#c08848"/><rect x="-11" y="57" width="9" height="23.5" fill="#d09a58"/></g><circle cx="185.6" cy="502.25" r="12.5" fill="#e8121a"/><text x="185.6" y="510.45" text-anchor="middle" font-family='"Liberation Sans", sans-serif' font-weight="bold" font-size="23" fill="#fff" stroke="#7a1010" stroke-width="0.4">3</text><path d="M500.50 623.25 V627.20 H542.55 V540.50 H623.80" fill="none" stroke="#1a1414" stroke-width="2.7"/><path d="M497.65 623.25 V629.65 H545.65 V544.85 H623.80" fill="none" stroke="#b04030" stroke-width="2.7"/><path d="M497.65 623.25 V629.65 H545.65 V544.85 H623.80" fill="none" stroke="#eaa098" stroke-width="0.75"/><path d="M494.80 623.25 V632.10 H548.75 V549.20 H623.80" fill="none" stroke="#d0822e" stroke-width="2.7"/><path d="M494.80 623.25 V632.10 H548.75 V549.20 H623.80" fill="none" stroke="#f4d0a0" stroke-width="0.75"/><path d="M491.95 623.25 V634.55 H551.85 V553.55 H623.80" fill="none" stroke="#dcc030" stroke-width="2.7"/><path d="M491.95 623.25 V634.55 H551.85 V553.55 H623.80" fill="none" stroke="#f6ec98" stroke-width="0.75"/><path d="M489.10 623.25 V637.00 H554.95 V557.90 H623.80" fill="none" stroke="#3aa24a" stroke-width="2.7"/><path d="M489.10 623.25 V637.00 H554.95 V557.90 H623.80" fill="none" stroke="#b0eca0" stroke-width="0.75"/><path d="M486.25 623.25 V639.45 H558.05 V562.25 H623.80" fill="none" stroke="#2448a8" stroke-width="3.0"/><path d="M486.25 623.25 V639.45 H558.05 V562.25 H623.80" fill="none" stroke="#a8c4f0" stroke-width="0.75"/><path d="M446 623.25 V654.2 H609.25 V595.4 H611.3" fill="none" stroke="#222" stroke-width="2.6"/><path d="M456.5 623.25 V648.0 H600.55 V588.1 H611.3" fill="none" stroke="#d84c5c" stroke-width="3.2"/><path d="M456.5 623.25 V648.0 H600.55 V588.1 H611.3" fill="none" stroke="#ee7888" stroke-width="1.0"/><g transform="translate(424,490.25)"><rect x="0" y="0" width="99" height="134" rx="1.5" fill="#1e1e1e"/><rect x="1" y="0.6" width="97" height="1.4" fill="#3e3e3e"/><rect x="1.6" y="2" width="3.6" height="130" fill="url(#cstrip)"/><rect x="93.8" y="2" width="3.6" height="130" fill="url(#cstrip)"/><rect x="6.5" y="5.2" width="86.5" height="123" fill="#1d1713"/><rect x="5.5" y="128.5" width="88" height="3.5" fill="#2e2e2e"/><path d="M25.6 16.4 C27.5 13.6 31 12.4 35 12.7 C38 13 37.5 15.8 33.6 16 L36.2 19" fill="none" stroke="#f0f0f0" stroke-width="1.3"/><path d="M31.4 13 L28.2 19" fill="none" stroke="#f0f0f0" stroke-width="1.7"/><text x="35.8" y="19" font-family='"Liberation Sans", sans-serif' font-weight="bold" font-size="6" fill="#eeeeee" textLength="29" lengthAdjust="spacingAndGlyphs">charlance</text><path d="M60 19.6 C65 20.2 70.5 19 70 16 C69.5 14 66 13.5 62.5 14.8" fill="none" stroke="#eeeeee" stroke-width="0.9"/><path d="M64.6 11.2 l-0.5 -2.4 M67.8 11.6 l1 -2.4 M70.6 13.2 l2.2 -1.3" stroke="#eeeeee" stroke-width="1.1"/><rect x="20.5" y="22.5" width="58.5" height="48" fill="#f6f4f2"/><rect x="20.5" y="22.5" width="58.5" height="7.7" fill="#c8641c"/><rect x="20.5" y="30.2" width="58.5" height="14.3" fill="#d9721f"/><text x="22" y="29.2" font-family='"Liberation Sans", sans-serif' font-weight="bold" font-size="6.8" fill="#f8d4b0" textLength="55.5" lengthAdjust="spacingAndGlyphs">LiPo-6S 01:23:26</text><text x="24" y="41.3" font-family='"Liberation Sans", sans-serif' font-weight="bold" font-size="9.5" fill="#f8dcc0" textLength="22" lengthAdjust="spacingAndGlyphs">5.0A</text><text x="52" y="36.3" font-family='"Liberation Sans", sans-serif' font-weight="bold" font-size="5.4" fill="#f8d4b0" textLength="24.5" lengthAdjust="spacingAndGlyphs">5300mAh</text><text x="52" y="43.2" font-family='"Liberation Sans", sans-serif' font-weight="bold" font-size="6.2" fill="#f8d4b0" textLength="16" lengthAdjust="spacingAndGlyphs">24.0V</text><rect x="21.5" y="46.8" width="3.8" height="4.6" fill="#6e6e6e"/><text x="27" y="51.4" font-family='"Liberation Sans", sans-serif' font-size="7" fill="#8c8c8c" textLength="17" lengthAdjust="spacingAndGlyphs">4.00V</text><rect x="56" y="46.8" width="3.8" height="4.6" fill="#6e6e6e"/><text x="60.5" y="51.4" font-family='"Liberation Sans", sans-serif' font-size="7" fill="#8c8c8c" textLength="17" lengthAdjust="spacingAndGlyphs">4.00V</text><rect x="21.5" y="55.3" width="3.8" height="4.6" fill="#6e6e6e"/><text x="27" y="59.9" font-family='"Liberation Sans", sans-serif' font-size="7" fill="#8c8c8c" textLength="17" lengthAdjust="spacingAndGlyphs">4.00V</text><rect x="56" y="55.3" width="3.8" height="4.6" fill="#6e6e6e"/><text x="60.5" y="59.9" font-family='"Liberation Sans", sans-serif' font-size="7" fill="#8c8c8c" textLength="17" lengthAdjust="spacingAndGlyphs">4.00V</text><rect x="21.5" y="63.800000000000004" width="3.8" height="4.6" fill="#6e6e6e"/><text x="27" y="68.4" font-family='"Liberation Sans", sans-serif' font-size="7" fill="#8c8c8c" textLength="17" lengthAdjust="spacingAndGlyphs">4.00V</text><rect x="56" y="63.800000000000004" width="3.8" height="4.6" fill="#6e6e6e"/><text x="60.5" y="68.4" font-family='"Liberation Sans", sans-serif' font-size="7" fill="#8c8c8c" textLength="17" lengthAdjust="spacingAndGlyphs">4.00V</text><text x="23.5" y="79.2" font-family='"Liberation Sans", sans-serif' font-style="italic" font-weight="bold" font-size="8.8" fill="#e0711d" textLength="51" lengthAdjust="spacingAndGlyphs">M6 PRO MINI</text><text x="20.5" y="84" font-family='"Liberation Sans", sans-serif' font-weight="bold" font-size="2.6" fill="#d8d8d8" textLength="58" lengthAdjust="spacingAndGlyphs">1-6S BATTERY INTELLIGENT CHARGER</text><rect x="18.5" y="86.9" width="19" height="10.2" rx="2.2" fill="#1c1c1c" stroke="#3e3e3e" stroke-width="0.9"/><rect x="40" y="86.9" width="19" height="10.2" rx="2.2" fill="#1c1c1c" stroke="#3e3e3e" stroke-width="0.9"/><rect x="61.5" y="86.9" width="19" height="10.2" rx="2.2" fill="#1c1c1c" stroke="#3e3e3e" stroke-width="0.9"/><path d="M22.5 89.3h11v5.6h-11z" fill="#2e2e2e"/><path d="M45 92 l10 -3 v6z" fill="#2e2e2e" stroke="#505050" stroke-width="0.5"/><path d="M75 92 l-10 -3 v6z" fill="#2e2e2e" stroke="#505050" stroke-width="0.5"/><rect x="25" y="99" width="6" height="1.6" fill="#8a2a20"/><rect x="46.5" y="99" width="6" height="1.6" fill="#8a2a20"/><rect x="68" y="99" width="6" height="1.6" fill="#8a2a20"/><text x="11.3" y="109.6" font-family='"Liberation Sans", sans-serif' font-size="5.4" fill="#e8e8e8" textLength="76.5" lengthAdjust="spacingAndGlyphs">MaxPower 120W  DC Input :11-18V</text><text x="11.3" y="119.8" font-family='"Liberation Sans", sans-serif' font-size="5.4" fill="#e8e8e8" textLength="76.5" lengthAdjust="spacingAndGlyphs">Charger 0.1-10A  Discharger 0.1-1A</text></g><g transform="translate(624.3,524.6)"><rect x="0" y="0" width="141.5" height="92.5" rx="4" fill="#1e1e1e"/><rect x="1" y="0.5" width="139.5" height="4" rx="2" fill="#3a3a3a"/><rect x="1" y="88.0" width="139.5" height="4" rx="2" fill="#363636"/><rect x="2" y="3.5" width="137.5" height="85.5" rx="2" fill="#1c1c1c"/><rect x="-2.5" y="14" width="3" height="27" fill="#cfcfcf"/><path d="M9 30.5 h3 v32 h-3" fill="none" stroke="#8a8a8a" stroke-width="0.7"/><text transform="translate(15,49) rotate(-90)" font-family='"Liberation Sans", sans-serif' font-size="2.6" fill="#8a8a8a">5V</text><text transform="translate(25.8,80.5) rotate(-90)" font-family='"Liberation Sans", sans-serif' font-weight="bold" font-style="italic" font-size="8.2" fill="#e8642a" textLength="49.5" lengthAdjust="spacingAndGlyphs">P4M 1-6SXT30</text><text transform="translate(32,60) rotate(-90)" font-family='"Liberation Sans", sans-serif' font-weight="bold" font-size="4" fill="#d8642a" textLength="47.5" lengthAdjust="spacingAndGlyphs">Parallel Charging Board</text><rect x="44" y="0.6" width="1.2" height="2.6" fill="#151515"/><rect x="44" y="89.2" width="1.2" height="2.6" fill="#151515"/><rect x="47" y="0.6" width="1.2" height="2.6" fill="#151515"/><rect x="47" y="89.2" width="1.2" height="2.6" fill="#151515"/><rect x="50" y="0.6" width="1.2" height="2.6" fill="#151515"/><rect x="50" y="89.2" width="1.2" height="2.6" fill="#151515"/><rect x="53" y="0.6" width="1.2" height="2.6" fill="#151515"/><rect x="53" y="89.2" width="1.2" height="2.6" fill="#151515"/><rect x="56" y="0.6" width="1.2" height="2.6" fill="#151515"/><rect x="56" y="89.2" width="1.2" height="2.6" fill="#151515"/><rect x="59" y="0.6" width="1.2" height="2.6" fill="#151515"/><rect x="59" y="89.2" width="1.2" height="2.6" fill="#151515"/><rect x="62" y="0.6" width="1.2" height="2.6" fill="#151515"/><rect x="62" y="89.2" width="1.2" height="2.6" fill="#151515"/><rect x="65" y="0.6" width="1.2" height="2.6" fill="#151515"/><rect x="65" y="89.2" width="1.2" height="2.6" fill="#151515"/><rect x="68" y="0.6" width="1.2" height="2.6" fill="#151515"/><rect x="68" y="89.2" width="1.2" height="2.6" fill="#151515"/><rect x="71" y="0.6" width="1.2" height="2.6" fill="#151515"/><rect x="71" y="89.2" width="1.2" height="2.6" fill="#151515"/><rect x="98" y="0.6" width="1.2" height="2.6" fill="#151515"/><rect x="98" y="89.2" width="1.2" height="2.6" fill="#151515"/><rect x="101" y="0.6" width="1.2" height="2.6" fill="#151515"/><rect x="101" y="89.2" width="1.2" height="2.6" fill="#151515"/><rect x="104" y="0.6" width="1.2" height="2.6" fill="#151515"/><rect x="104" y="89.2" width="1.2" height="2.6" fill="#151515"/><rect x="107" y="0.6" width="1.2" height="2.6" fill="#151515"/><rect x="107" y="89.2" width="1.2" height="2.6" fill="#151515"/><rect x="110" y="0.6" width="1.2" height="2.6" fill="#151515"/><rect x="110" y="89.2" width="1.2" height="2.6" fill="#151515"/><rect x="113" y="0.6" width="1.2" height="2.6" fill="#151515"/><rect x="113" y="89.2" width="1.2" height="2.6" fill="#151515"/><rect x="116" y="0.6" width="1.2" height="2.6" fill="#151515"/><rect x="116" y="89.2" width="1.2" height="2.6" fill="#151515"/><rect x="119" y="0.6" width="1.2" height="2.6" fill="#151515"/><rect x="119" y="89.2" width="1.2" height="2.6" fill="#151515"/><rect x="122" y="0.6" width="1.2" height="2.6" fill="#151515"/><rect x="122" y="89.2" width="1.2" height="2.6" fill="#151515"/><text x="52.5" y="17" font-family="Liberation Serif" font-size="4.5" fill="#d8d8d8" textLength="11" lengthAdjust="spacingAndGlyphs">OUT1</text><text x="102.5" y="17" font-family="Liberation Serif" font-size="4.5" fill="#d8d8d8" textLength="11" lengthAdjust="spacingAndGlyphs">OUT2</text><text x="52.5" y="81" font-family="Liberation Serif" font-size="4.5" fill="#d8d8d8" textLength="11" lengthAdjust="spacingAndGlyphs">4OUT</text><text x="102.5" y="81" font-family="Liberation Serif" font-size="4.5" fill="#d8d8d8" textLength="11" lengthAdjust="spacingAndGlyphs">3OUT</text><text transform="translate(65,67) rotate(-90)" font-family="Liberation Serif" font-size="4.6" fill="#d0d0d0" textLength="36" lengthAdjust="spacingAndGlyphs">Cell Meter Display</text><text transform="translate(126,28) rotate(90)" font-family="Liberation Serif" font-size="4.6" fill="#a04a30" textLength="38" lengthAdjust="spacingAndGlyphs">XT30 PLUG(4)</text><rect x="68.9" y="27.5" width="24.4" height="39.3" fill="#383838"/><path d="M73.5 29.2 h15.5 v9 h-15.5 z M81.25 29.2 v9" fill="none" stroke="#d8404c" stroke-width="1.2"/><path d="M73.5 42 h15.5 v9 h-15.5 z M81.25 42 v9" fill="none" stroke="#d8404c" stroke-width="1.2"/><path d="M73.5 55.8 h15.5 v9 h-15.5 z M81.25 55.8 v9" fill="none" stroke="#d8404c" stroke-width="1.2"/><path d="M36.5 28 h13.5 a4.7 4.7 0 0 1 0 9.4 h-13.5 z" fill="#3a2414" stroke="#d8943a" stroke-width="1.1"/><circle cx="41.0" cy="32.7" r="1.1" fill="#d8943a"/><circle cx="49.0" cy="32.7" r="1.1" fill="#d8943a"/><path d="M104.5 28.5 h13.5 a4.7 4.7 0 0 1 0 9.4 h-13.5 z" fill="#3a2414" stroke="#d8943a" stroke-width="1.1"/><circle cx="109.0" cy="33.2" r="1.1" fill="#d8943a"/><circle cx="117.0" cy="33.2" r="1.1" fill="#d8943a"/><path d="M36.5 55.6 h13.5 a4.7 4.7 0 0 1 0 9.4 h-13.5 z" fill="#3a2414" stroke="#d8943a" stroke-width="1.1"/><circle cx="41.0" cy="60.300000000000004" r="1.1" fill="#d8943a"/><circle cx="49.0" cy="60.300000000000004" r="1.1" fill="#d8943a"/><path d="M104.5 55.6 h13.5 a4.7 4.7 0 0 1 0 9.4 h-13.5 z" fill="#3a2414" stroke="#d8943a" stroke-width="1.1"/><circle cx="109.0" cy="60.300000000000004" r="1.1" fill="#d8943a"/><circle cx="117.0" cy="60.300000000000004" r="1.1" fill="#d8943a"/><rect x="-12.8" y="56" width="12.5" height="25.5" fill="#c08848"/><rect x="-11" y="57" width="9" height="23.5" fill="#d09a58"/></g><circle cx="589.25" cy="502.1" r="12.5" fill="#e8121a"/><text x="589.25" y="510.3" text-anchor="middle" font-family='"Liberation Sans", sans-serif' font-weight="bold" font-style="italic" font-size="23" fill="#fff" stroke="#7a1010" stroke-width="0.4">4</text><path d="M679 191.4 H693.5 A5.299999999999997 5.299999999999997 0 0 1 693.5 202 H679 Z" fill="#f0b418"/><path d="M680.5 192.9 H693.5 A3.799999999999997 3.799999999999997 0 0 1 693.5 200.5 H680.5 Z" fill="#d89a10"/><rect x="700.40" y="143.7" width="2.31" height="22.30" fill="#2a2a2a"/><rect x="703.12" y="143.7" width="2.31" height="22.30" fill="#e8a8ac"/><rect x="705.84" y="143.7" width="2.31" height="22.30" fill="#d83848"/><rect x="708.56" y="143.7" width="2.31" height="22.30" fill="#e8a8ac"/><rect x="711.28" y="143.7" width="2.31" height="22.30" fill="#d83848"/><rect x="681.2" y="143.7" width="4.6" height="54.06" fill="#dc3444"/><rect x="692.1999999999999" y="143.7" width="4.2" height="54.06" fill="#454545"/><g transform="translate(680,20.7)"><rect x="0" y="0" width="36" height="125" fill="url(#bgrad)"/><path d="M3 32 C8 48 22 58 36 60 V72 C30 78 27 88 30 98 L33 114 H6 C10 100 12 84 10 70 C8 56 5 44 3 32 Z" fill="#1a1a1a"/><path d="M14 62 L20 56 L18 68 L25 64 L21 78 L28 92 L19 86 L15 96 Z" fill="#5a5a5a" opacity="0.7"/><path d="M4.5 46 C3 58 4 70 9 80" fill="none" stroke="#f4f4f4" stroke-width="1.3"/><path d="M8 88 L12 84 L10 94 Z M27 92 L33 86 L30 96 Z" fill="#e8e8e8"/><path d="M0 24 C6 48 24 59 36 59 V62 C24 62 8 55 1 40 Z" fill="#b0b0b0" opacity="0.6"/><path d="M0 7 H36 V57 C22 57 5 45 0 23 Z" fill="#cfa622"/><path d="M2 10 H19 V34 C12 32 6 26 2 20 Z" fill="#a07e18" opacity="0.55"/><path d="M0 23 C5 45 22 57 36 57" fill="none" stroke="#f0e6c0" stroke-width="1.2"/><rect x="0" y="0" width="36" height="8" fill="#2c2c30"/><rect x="0" y="1.2" width="36" height="1.6" fill="#4a4a4e"/><path d="M0 114 C6 110 12 114 18 111 C24 108 30 112 36 110 V125 H0 Z" fill="#121212"/><text transform="translate(23,17) rotate(90)" font-family='"Liberation Sans", sans-serif' font-size="9.5" fill="#1a1a1a" textLength="22" lengthAdjust="spacingAndGlyphs">450</text><rect x="23.5" y="10.5" width="6.5" height="5.5" fill="#2a2010"/></g><path d="M258 552.9 H272.55 A5.050000000000011 5.050000000000011 0 0 1 272.55 563 H258 Z" fill="#f0b418"/><path d="M259.5 554.4 H272.55 A3.5500000000000114 3.5500000000000114 0 0 1 272.55 561.5 H259.5 Z" fill="#d89a10"/><rect x="278.75" y="501" width="2.25" height="26.00" fill="#2a2a2a"/><rect x="281.40" y="501" width="2.25" height="26.00" fill="#e8a8ac"/><rect x="284.05" y="501" width="2.25" height="26.00" fill="#d83848"/><rect x="286.70" y="501" width="2.25" height="26.00" fill="#e8a8ac"/><rect x="289.35" y="501" width="2.25" height="26.00" fill="#d83848"/><rect x="259.9" y="501" width="4.6" height="57.96" fill="#dc3444"/><rect x="270.7" y="501" width="4.2" height="57.96" fill="#454545"/><g transform="translate(259.3,378)"><rect x="0" y="0" width="36" height="125" fill="url(#bgrad)"/><path d="M3 32 C8 48 22 58 36 60 V72 C30 78 27 88 30 98 L33 114 H6 C10 100 12 84 10 70 C8 56 5 44 3 32 Z" fill="#1a1a1a"/><path d="M14 62 L20 56 L18 68 L25 64 L21 78 L28 92 L19 86 L15 96 Z" fill="#5a5a5a" opacity="0.7"/><path d="M4.5 46 C3 58 4 70 9 80" fill="none" stroke="#f4f4f4" stroke-width="1.3"/><path d="M8 88 L12 84 L10 94 Z M27 92 L33 86 L30 96 Z" fill="#e8e8e8"/><path d="M0 24 C6 48 24 59 36 59 V62 C24 62 8 55 1 40 Z" fill="#b0b0b0" opacity="0.6"/><path d="M0 7 H36 V57 C22 57 5 45 0 23 Z" fill="#cfa622"/><path d="M2 10 H19 V34 C12 32 6 26 2 20 Z" fill="#a07e18" opacity="0.55"/><path d="M0 23 C5 45 22 57 36 57" fill="none" stroke="#f0e6c0" stroke-width="1.2"/><rect x="0" y="0" width="36" height="8" fill="#2c2c30"/><rect x="0" y="1.2" width="36" height="1.6" fill="#4a4a4e"/><path d="M0 114 C6 110 12 114 18 111 C24 108 30 112 36 110 V125 H0 Z" fill="#121212"/><text transform="translate(23,17) rotate(90)" font-family='"Liberation Sans", sans-serif' font-size="9.5" fill="#1a1a1a" textLength="22" lengthAdjust="spacingAndGlyphs">450</text><rect x="23.5" y="10.5" width="6.5" height="5.5" fill="#2a2010"/></g><path d="M325 553 H338.9 A4.800000000000011 4.800000000000011 0 0 1 338.9 562.6 H325 Z" fill="#f0b418"/><path d="M326.5 554.5 H338.9 A3.3000000000000114 3.3000000000000114 0 0 1 338.9 561.1 H326.5 Z" fill="#d89a10"/><rect x="343.20" y="501" width="2.01" height="26.00" fill="#2a2a2a"/><rect x="345.56" y="501" width="2.01" height="26.00" fill="#e8a8ac"/><rect x="347.92" y="501" width="2.01" height="26.00" fill="#d83848"/><rect x="350.28" y="501" width="2.01" height="26.00" fill="#e8a8ac"/><rect x="352.64" y="501" width="2.01" height="26.00" fill="#d83848"/><rect x="326.5" y="501" width="4.6" height="57.76" fill="#dc3444"/><rect x="337.09999999999997" y="501" width="4.2" height="57.76" fill="#454545"/><g transform="translate(323.4,378)"><rect x="0" y="0" width="36" height="125" fill="url(#bgrad)"/><path d="M3 32 C8 48 22 58 36 60 V72 C30 78 27 88 30 98 L33 114 H6 C10 100 12 84 10 70 C8 56 5 44 3 32 Z" fill="#1a1a1a"/><path d="M14 62 L20 56 L18 68 L25 64 L21 78 L28 92 L19 86 L15 96 Z" fill="#5a5a5a" opacity="0.7"/><path d="M4.5 46 C3 58 4 70 9 80" fill="none" stroke="#f4f4f4" stroke-width="1.3"/><path d="M8 88 L12 84 L10 94 Z M27 92 L33 86 L30 96 Z" fill="#e8e8e8"/><path d="M0 24 C6 48 24 59 36 59 V62 C24 62 8 55 1 40 Z" fill="#b0b0b0" opacity="0.6"/><path d="M0 7 H36 V57 C22 57 5 45 0 23 Z" fill="#cfa622"/><path d="M2 10 H19 V34 C12 32 6 26 2 20 Z" fill="#a07e18" opacity="0.55"/><path d="M0 23 C5 45 22 57 36 57" fill="none" stroke="#f0e6c0" stroke-width="1.2"/><rect x="0" y="0" width="36" height="8" fill="#2c2c30"/><rect x="0" y="1.2" width="36" height="1.6" fill="#4a4a4e"/><path d="M0 114 C6 110 12 114 18 111 C24 108 30 112 36 110 V125 H0 Z" fill="#121212"/><text transform="translate(23,17) rotate(90)" font-family='"Liberation Sans", sans-serif' font-size="9.5" fill="#1a1a1a" textLength="22" lengthAdjust="spacingAndGlyphs">450</text><rect x="23.5" y="10.5" width="6.5" height="5.5" fill="#2a2010"/></g><path d="M662 552.2 H675.45 A5.25 5.25 0 0 1 675.45 562.7 H662 Z" fill="#f0b418"/><path d="M663.5 553.7 H675.45 A3.75 3.75 0 0 1 675.45 561.2 H663.5 Z" fill="#d89a10"/><rect x="683.00" y="500.6" width="2.16" height="26.40" fill="#2a2a2a"/><rect x="685.54" y="500.6" width="2.16" height="26.40" fill="#e8a8ac"/><rect x="688.08" y="500.6" width="2.16" height="26.40" fill="#d83848"/><rect x="690.62" y="500.6" width="2.16" height="26.40" fill="#e8a8ac"/><rect x="693.16" y="500.6" width="2.16" height="26.40" fill="#d83848"/><rect x="663.9000000000001" y="500.6" width="4.6" height="57.90" fill="#dc3444"/><rect x="674.9" y="500.6" width="4.2" height="57.90" fill="#454545"/><g transform="translate(662.5,377.6)"><rect x="0" y="0" width="36" height="125" fill="url(#bgrad)"/><path d="M3 32 C8 48 22 58 36 60 V72 C30 78 27 88 30 98 L33 114 H6 C10 100 12 84 10 70 C8 56 5 44 3 32 Z" fill="#1a1a1a"/><path d="M14 62 L20 56 L18 68 L25 64 L21 78 L28 92 L19 86 L15 96 Z" fill="#5a5a5a" opacity="0.7"/><path d="M4.5 46 C3 58 4 70 9 80" fill="none" stroke="#f4f4f4" stroke-width="1.3"/><path d="M8 88 L12 84 L10 94 Z M27 92 L33 86 L30 96 Z" fill="#e8e8e8"/><path d="M0 24 C6 48 24 59 36 59 V62 C24 62 8 55 1 40 Z" fill="#b0b0b0" opacity="0.6"/><path d="M0 7 H36 V57 C22 57 5 45 0 23 Z" fill="#cfa622"/><path d="M2 10 H19 V34 C12 32 6 26 2 20 Z" fill="#a07e18" opacity="0.55"/><path d="M0 23 C5 45 22 57 36 57" fill="none" stroke="#f0e6c0" stroke-width="1.2"/><rect x="0" y="0" width="36" height="8" fill="#2c2c30"/><rect x="0" y="1.2" width="36" height="1.6" fill="#4a4a4e"/><path d="M0 114 C6 110 12 114 18 111 C24 108 30 112 36 110 V125 H0 Z" fill="#121212"/><text transform="translate(23,17) rotate(90)" font-family='"Liberation Sans", sans-serif' font-size="9.5" fill="#1a1a1a" textLength="22" lengthAdjust="spacingAndGlyphs">450</text><rect x="23.5" y="10.5" width="6.5" height="5.5" fill="#2a2010"/></g><path d="M728.4 552.5 H742.25 A4.75 4.75 0 0 1 742.25 562 H728.4 Z" fill="#f0b418"/><path d="M729.9 554.0 H742.25 A3.25 3.25 0 0 1 742.25 560.5 H729.9 Z" fill="#d89a10"/><rect x="747.60" y="500.6" width="1.92" height="26.40" fill="#2a2a2a"/><rect x="749.86" y="500.6" width="1.92" height="26.40" fill="#e8a8ac"/><rect x="752.12" y="500.6" width="1.92" height="26.40" fill="#d83848"/><rect x="754.38" y="500.6" width="1.92" height="26.40" fill="#e8a8ac"/><rect x="756.64" y="500.6" width="1.92" height="26.40" fill="#d83848"/><rect x="730.3000000000001" y="500.6" width="4.6" height="57.60" fill="#dc3444"/><rect x="741.1999999999999" y="500.6" width="4.2" height="57.60" fill="#454545"/><g transform="translate(727.3,377.6)"><rect x="0" y="0" width="36" height="125" fill="url(#bgrad)"/><path d="M3 32 C8 48 22 58 36 60 V72 C30 78 27 88 30 98 L33 114 H6 C10 100 12 84 10 70 C8 56 5 44 3 32 Z" fill="#1a1a1a"/><path d="M14 62 L20 56 L18 68 L25 64 L21 78 L28 92 L19 86 L15 96 Z" fill="#5a5a5a" opacity="0.7"/><path d="M4.5 46 C3 58 4 70 9 80" fill="none" stroke="#f4f4f4" stroke-width="1.3"/><path d="M8 88 L12 84 L10 94 Z M27 92 L33 86 L30 96 Z" fill="#e8e8e8"/><path d="M0 24 C6 48 24 59 36 59 V62 C24 62 8 55 1 40 Z" fill="#b0b0b0" opacity="0.6"/><path d="M0 7 H36 V57 C22 57 5 45 0 23 Z" fill="#cfa622"/><path d="M2 10 H19 V34 C12 32 6 26 2 20 Z" fill="#a07e18" opacity="0.55"/><path d="M0 23 C5 45 22 57 36 57" fill="none" stroke="#f0e6c0" stroke-width="1.2"/><rect x="0" y="0" width="36" height="8" fill="#2c2c30"/><rect x="0" y="1.2" width="36" height="1.6" fill="#4a4a4e"/><path d="M0 114 C6 110 12 114 18 111 C24 108 30 112 36 110 V125 H0 Z" fill="#121212"/><text transform="translate(23,17) rotate(90)" font-family='"Liberation Sans", sans-serif' font-size="9.5" fill="#1a1a1a" textLength="22" lengthAdjust="spacingAndGlyphs">450</text><rect x="23.5" y="10.5" width="6.5" height="5.5" fill="#2a2010"/></g><path d="M662 579.6 H677.2 A4.5 4.5 0 0 1 677.2 588.6 H662 Z" fill="#f0b418"/><path d="M663.5 581.1 H677.2 A3.0 3.0 0 0 1 677.2 587.1 H663.5 Z" fill="#d89a10"/><rect x="651.80" y="615" width="2.01" height="22.90" fill="#d83848"/><rect x="654.16" y="615" width="2.01" height="22.90" fill="#e8a8ac"/><rect x="656.52" y="615" width="2.01" height="22.90" fill="#d83848"/><rect x="658.88" y="615" width="2.01" height="22.90" fill="#e8a8ac"/><rect x="661.24" y="615" width="2.01" height="22.90" fill="#2a2a2a"/><rect x="675.7" y="583.20" width="4.6" height="54.70" fill="#dc3444"/><rect x="665.1" y="583.20" width="4.2" height="54.70" fill="#454545"/><g transform="translate(685.1,760.9) rotate(180)"><rect x="0" y="0" width="36" height="125" fill="url(#bgrad)"/><path d="M3 32 C8 48 22 58 36 60 V72 C30 78 27 88 30 98 L33 114 H6 C10 100 12 84 10 70 C8 56 5 44 3 32 Z" fill="#1a1a1a"/><path d="M14 62 L20 56 L18 68 L25 64 L21 78 L28 92 L19 86 L15 96 Z" fill="#5a5a5a" opacity="0.7"/><path d="M4.5 46 C3 58 4 70 9 80" fill="none" stroke="#f4f4f4" stroke-width="1.3"/><path d="M8 88 L12 84 L10 94 Z M27 92 L33 86 L30 96 Z" fill="#e8e8e8"/><path d="M0 24 C6 48 24 59 36 59 V62 C24 62 8 55 1 40 Z" fill="#b0b0b0" opacity="0.6"/><path d="M0 7 H36 V57 C22 57 5 45 0 23 Z" fill="#cfa622"/><path d="M2 10 H19 V34 C12 32 6 26 2 20 Z" fill="#a07e18" opacity="0.55"/><path d="M0 23 C5 45 22 57 36 57" fill="none" stroke="#f0e6c0" stroke-width="1.2"/><rect x="0" y="0" width="36" height="8" fill="#2c2c30"/><rect x="0" y="1.2" width="36" height="1.6" fill="#4a4a4e"/><path d="M0 114 C6 110 12 114 18 111 C24 108 30 112 36 110 V125 H0 Z" fill="#121212"/><text transform="translate(23,17) rotate(90)" font-family='"Liberation Sans", sans-serif' font-size="9.5" fill="#1a1a1a" textLength="22" lengthAdjust="spacingAndGlyphs">450</text><rect x="23.5" y="10.5" width="6.5" height="5.5" fill="#2a2010"/></g><path d="M727.6 579 H741.9000000000001 A4.800000000000011 4.800000000000011 0 0 1 741.9000000000001 588.6 H727.6 Z" fill="#f0b418"/><path d="M729.1 580.5 H741.9000000000001 A3.3000000000000114 3.3000000000000114 0 0 1 741.9000000000001 587.1 H729.1 Z" fill="#d89a10"/><rect x="717.50" y="615" width="2.01" height="23.20" fill="#d83848"/><rect x="719.86" y="615" width="2.01" height="23.20" fill="#e8a8ac"/><rect x="722.22" y="615" width="2.01" height="23.20" fill="#d83848"/><rect x="724.58" y="615" width="2.01" height="23.20" fill="#e8a8ac"/><rect x="726.94" y="615" width="2.01" height="23.20" fill="#2a2a2a"/><rect x="741.3000000000001" y="582.84" width="4.6" height="55.36" fill="#dc3444"/><rect x="730.9" y="582.84" width="4.2" height="55.36" fill="#454545"/><g transform="translate(750.7,761.2) rotate(180)"><rect x="0" y="0" width="36" height="125" fill="url(#bgrad)"/><path d="M3 32 C8 48 22 58 36 60 V72 C30 78 27 88 30 98 L33 114 H6 C10 100 12 84 10 70 C8 56 5 44 3 32 Z" fill="#1a1a1a"/><path d="M14 62 L20 56 L18 68 L25 64 L21 78 L28 92 L19 86 L15 96 Z" fill="#5a5a5a" opacity="0.7"/><path d="M4.5 46 C3 58 4 70 9 80" fill="none" stroke="#f4f4f4" stroke-width="1.3"/><path d="M8 88 L12 84 L10 94 Z M27 92 L33 86 L30 96 Z" fill="#e8e8e8"/><path d="M0 24 C6 48 24 59 36 59 V62 C24 62 8 55 1 40 Z" fill="#b0b0b0" opacity="0.6"/><path d="M0 7 H36 V57 C22 57 5 45 0 23 Z" fill="#cfa622"/><path d="M2 10 H19 V34 C12 32 6 26 2 20 Z" fill="#a07e18" opacity="0.55"/><path d="M0 23 C5 45 22 57 36 57" fill="none" stroke="#f0e6c0" stroke-width="1.2"/><rect x="0" y="0" width="36" height="8" fill="#2c2c30"/><rect x="0" y="1.2" width="36" height="1.6" fill="#4a4a4e"/><path d="M0 114 C6 110 12 114 18 111 C24 108 30 112 36 110 V125 H0 Z" fill="#121212"/><text transform="translate(23,17) rotate(90)" font-family='"Liberation Sans", sans-serif' font-size="9.5" fill="#1a1a1a" textLength="22" lengthAdjust="spacingAndGlyphs">450</text><rect x="23.5" y="10.5" width="6.5" height="5.5" fill="#2a2010"/></g><text x="17.5" y="325" font-family='"Liberation Sans", sans-serif' font-size="17.4" fill="#111" textLength="343" lengthAdjust="spacingAndGlyphs">Connect the charger and the charging board</text><text x="424.5" y="325" font-family='"Liberation Sans", sans-serif' font-size="17.4" fill="#111" textLength="350" lengthAdjust="spacingAndGlyphs">Add one battery,Connect the battery to OUT1</text><text x="18.5" y="679.5" font-family='"Liberation Sans", sans-serif' font-size="17.4" fill="#111" textLength="352.5" lengthAdjust="spacingAndGlyphs">Add one battery,Connect the battery to OUT2</text><text x="322.5" y="781" font-family='"Liberation Sans", sans-serif' font-size="17.4" fill="#111" textLength="440" lengthAdjust="spacingAndGlyphs">Connect four batteries to the charging board for charging</text>
</svg>
</body></html>
